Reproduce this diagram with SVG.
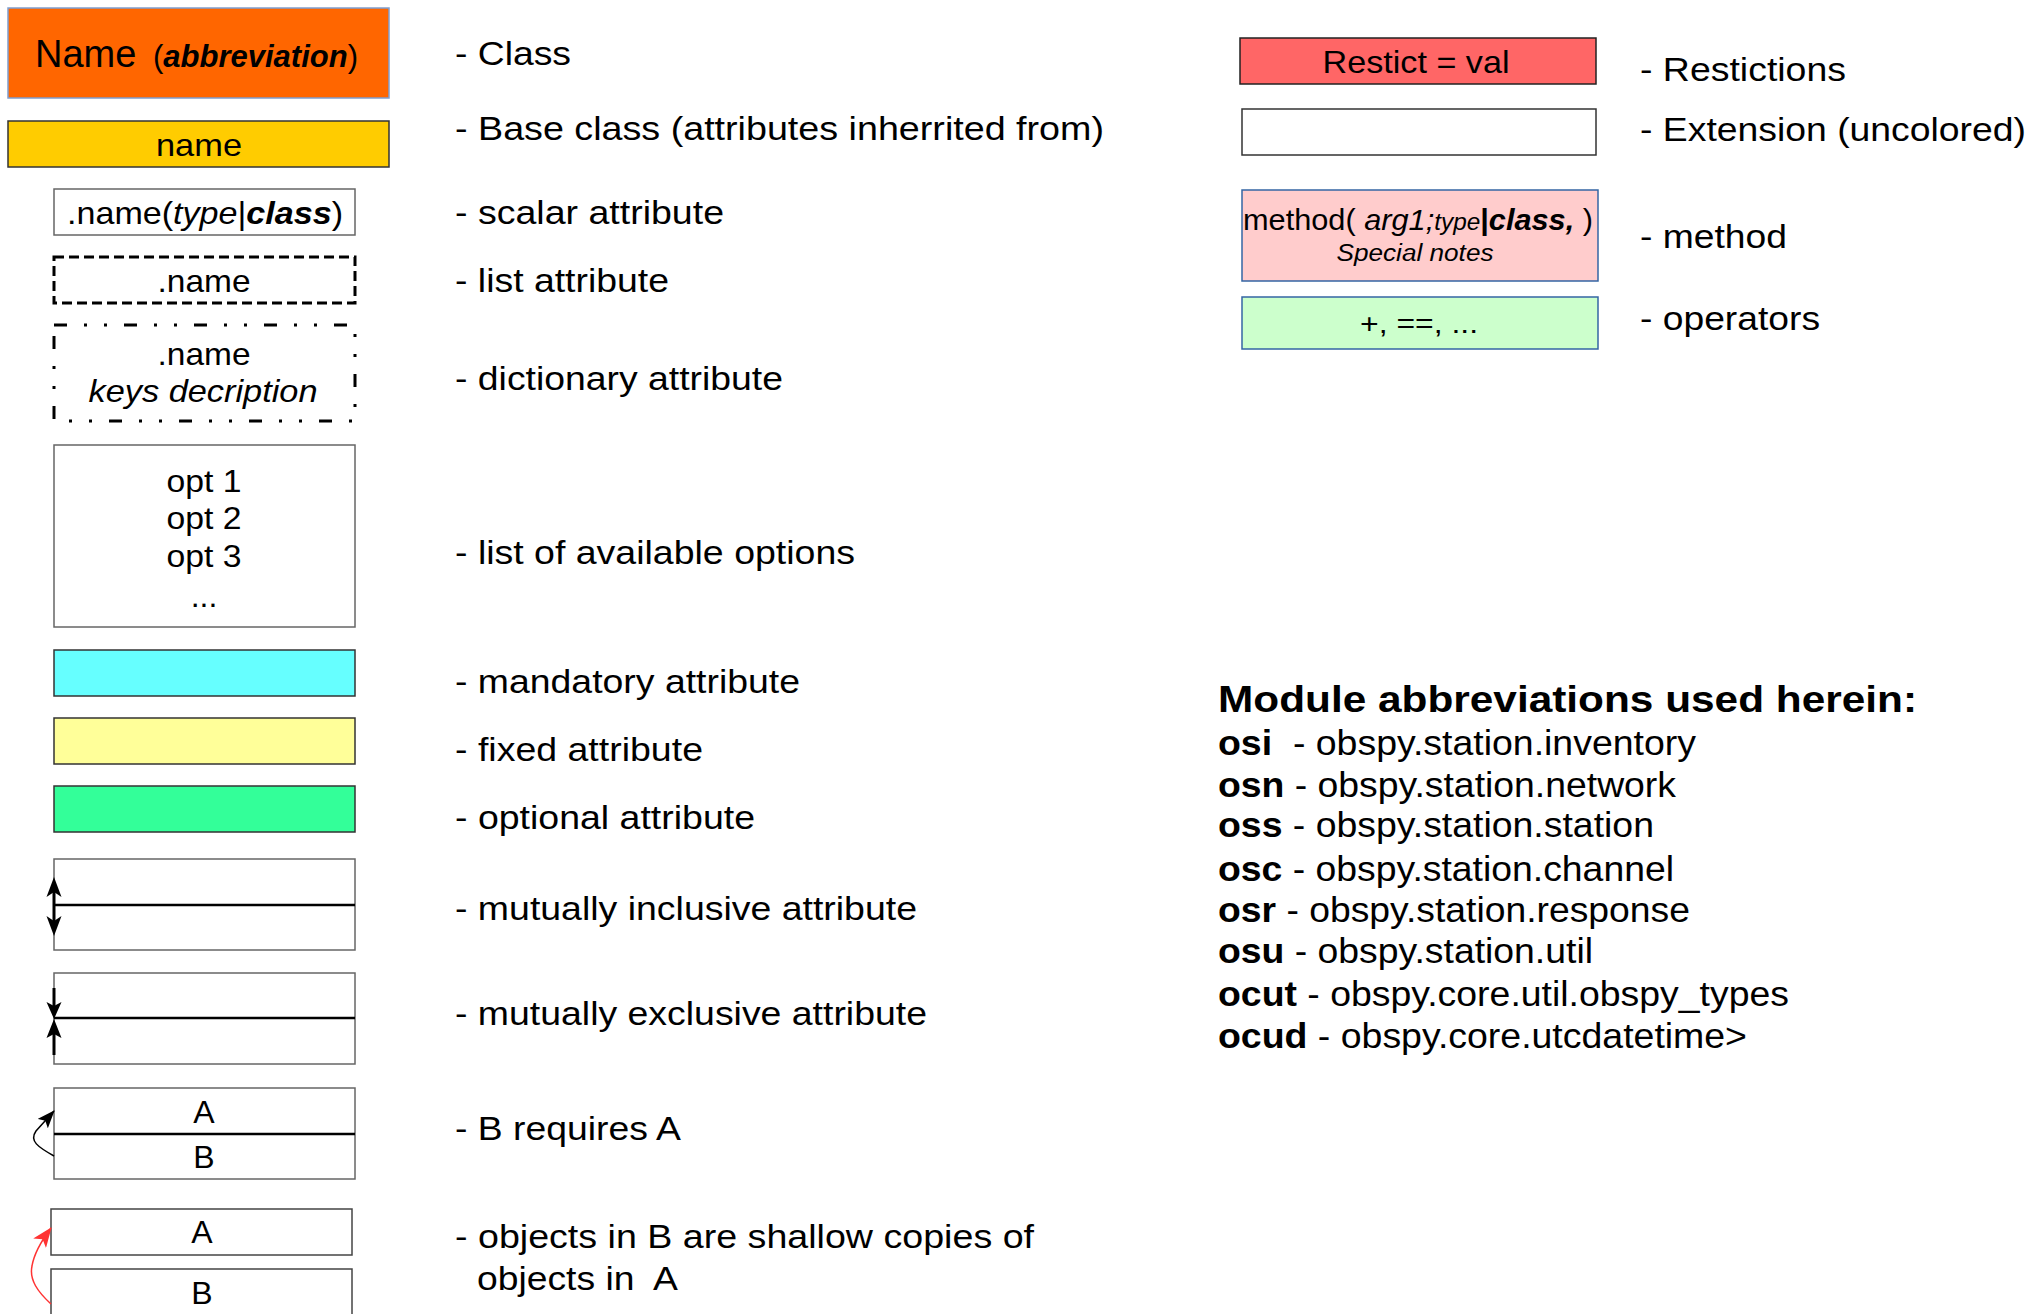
<svg xmlns="http://www.w3.org/2000/svg" width="2030" height="1314" viewBox="0 0 2030 1314">
<style>
text{font-family:"Liberation Sans",Arial,sans-serif;fill:#000}
.lbl{font-size:33px}
.box{font-size:32px;text-anchor:middle}
.mod{font-size:35px}
.b{font-weight:bold}
.i{font-style:italic}
.bi{font-weight:bold;font-style:italic}
.gray{fill:#fff;stroke:#666;stroke-width:1.5}
.dark{stroke:#333;stroke-width:1.5}
.mid{stroke:#000;stroke-width:2.5}
.blue{stroke:#3465a4;stroke-width:1.5}
</style>
<defs>
<marker id="ahk" markerWidth="20" markerHeight="14" refX="17" refY="7" orient="auto" markerUnits="userSpaceOnUse"><path d="M0,0 L18,7 L0,14 L4,7 z" fill="#000"/></marker>
<marker id="ahr" markerWidth="22" markerHeight="16" refX="19" refY="8" orient="auto" markerUnits="userSpaceOnUse"><path d="M0,0 L20,8 L0,16 L5,8 z" fill="#ff3333"/></marker>
</defs>
<rect width="2030" height="1314" fill="#fff"/>

<g id="class">
<rect x="8" y="8" width="381" height="90" fill="#ff6600" stroke="#7f9fcf" stroke-width="1.5"/>
<text x="35" y="67" style="font-size:38px">Name</text>
<text x="153" y="67" style="font-size:31px">(<tspan class="bi">abbreviation</tspan>)</text>
</g>
<g id="baseclass">
<rect x="8" y="121" width="381" height="46" fill="#ffcc00" class="dark"/>
<text x="199" y="156" class="box" textLength="86" lengthAdjust="spacingAndGlyphs">name</text>
</g>
<g id="scalar">
<rect x="54" y="189" width="301" height="46" class="gray"/>
<text x="67" y="224" style="font-size:32px" textLength="276" lengthAdjust="spacingAndGlyphs">.name(<tspan class="i">type</tspan>|<tspan class="bi">class</tspan>)</text>
</g>
<g id="list">
<rect x="54" y="257" width="301" height="46" fill="#fff" stroke="#000" stroke-width="3" stroke-dasharray="10,5"/>
<text x="204" y="292" class="box" textLength="93" lengthAdjust="spacingAndGlyphs">.name</text>
</g>
<g id="dict">
<rect x="54" y="325" width="301" height="96" fill="#fff" stroke="#000" stroke-width="3" stroke-dasharray="13,17,3,17,3,17"/>
<text x="204" y="365" class="box" textLength="93" lengthAdjust="spacingAndGlyphs">.name</text>
<text x="203" y="402" class="box i" textLength="229" lengthAdjust="spacingAndGlyphs">keys decription</text>
</g>
<g id="options">
<rect x="54" y="445" width="301" height="182" class="gray"/>
<text x="204" y="492" class="box" textLength="75" lengthAdjust="spacingAndGlyphs">opt 1</text>
<text x="204" y="529" class="box" textLength="75" lengthAdjust="spacingAndGlyphs">opt 2</text>
<text x="204" y="567" class="box" textLength="75" lengthAdjust="spacingAndGlyphs">opt 3</text>
<text x="204" y="607" class="box">...</text>
</g>
<g id="mandatory"><rect x="54" y="650" width="301" height="46" fill="#66ffff" class="dark"/></g>
<g id="fixed"><rect x="54" y="718" width="301" height="46" fill="#ffff99" class="dark"/></g>
<g id="optional"><rect x="54" y="786" width="301" height="46" fill="#33ff99" class="dark"/></g>
<g id="inclusive">
<rect x="54" y="859" width="301" height="91" class="gray"/>
<line x1="54" y1="905" x2="355" y2="905" class="mid"/>
</g>
<g id="exclusive">
<rect x="54" y="973" width="301" height="91" class="gray"/>
<line x1="54" y1="1018" x2="355" y2="1018" class="mid"/>
</g>
<g id="requires">
<rect x="54" y="1088" width="301" height="91" class="gray"/>
<line x1="54" y1="1134" x2="355" y2="1134" class="mid"/>
<text x="204" y="1123" class="box">A</text>
<text x="204" y="1168" class="box">B</text>
</g>
<g id="shallowA">
<rect x="51" y="1209" width="301" height="46" fill="#fff" stroke="#444" stroke-width="1.5"/>
<text x="202" y="1243" class="box">A</text>
</g>
<g id="shallowB">
<rect x="51" y="1269" width="301" height="60" fill="#fff" stroke="#444" stroke-width="1.5"/>
<text x="202" y="1304" class="box">B</text>
</g>

<g id="restrict">
<rect x="1240" y="38" width="356" height="46" fill="#ff6666" stroke="#222" stroke-width="1.5"/>
<text x="1416" y="73" class="box" textLength="187" lengthAdjust="spacingAndGlyphs">Restict = val</text>
</g>
<g id="extension">
<rect x="1242" y="109" width="354" height="46" fill="#fff" stroke="#333" stroke-width="1.5"/>
</g>
<g id="method">
<rect x="1242" y="190" width="356" height="91" fill="#ffcccc" class="blue"/>
<text x="1243" y="230" style="font-size:29px" textLength="350" lengthAdjust="spacingAndGlyphs">method( <tspan class="i">arg1;</tspan><tspan class="i" style="font-size:23px">type</tspan><tspan class="b">|</tspan><tspan class="bi">class,</tspan> )</text>
<text x="1415" y="261" class="box i" style="font-size:23px" textLength="157" lengthAdjust="spacingAndGlyphs">Special notes</text>
</g>
<g id="operators">
<rect x="1242" y="297" width="356" height="52" fill="#ccffcc" class="blue"/>
<text x="1419" y="333" class="box" style="font-size:28px" textLength="118" lengthAdjust="spacingAndGlyphs">+, ==, ...</text>
</g>

<g id="connectors" fill="none">
<line x1="54" y1="890" x2="54" y2="923" stroke="#000" stroke-width="3"/>
<polygon points="54,877 61.5,897 54,892 46.5,897" fill="#000"/>
<polygon points="54,936 61.5,916 54,921 46.5,916" fill="#000"/>
<line x1="54" y1="988" x2="54" y2="1008" stroke="#000" stroke-width="3"/>
<line x1="54" y1="1032" x2="54" y2="1055" stroke="#000" stroke-width="3"/>
<polygon points="54,1019 61.5,1002 54,1006 46.5,1002" fill="#000"/>
<polygon points="54,1019 61.5,1038 54,1034 46.5,1038" fill="#000"/>
<path d="M54,1156 C38,1147 29,1141 36,1131 Q45,1121 54,1111" stroke="#000" stroke-width="1.5" marker-end="url(#ahk)"/>
<path d="M51,1304 C38,1292 29,1280 32,1266 C34,1254 42,1240 51,1228" stroke="#ff3333" stroke-width="1.5" marker-end="url(#ahr)"/>
</g>

<g id="labels">
<text x="455" y="65" class="lbl" textLength="116" lengthAdjust="spacingAndGlyphs">- Class</text>
<text x="455" y="140" class="lbl" textLength="649" lengthAdjust="spacingAndGlyphs">- Base class (attributes inherrited from)</text>
<text x="455" y="224" class="lbl" textLength="269" lengthAdjust="spacingAndGlyphs">- scalar attribute</text>
<text x="455" y="292" class="lbl" textLength="214" lengthAdjust="spacingAndGlyphs">- list attribute</text>
<text x="455" y="390" class="lbl" textLength="328" lengthAdjust="spacingAndGlyphs">- dictionary attribute</text>
<text x="455" y="564" class="lbl" textLength="400" lengthAdjust="spacingAndGlyphs">- list of available options</text>
<text x="455" y="693" class="lbl" textLength="345" lengthAdjust="spacingAndGlyphs">- mandatory attribute</text>
<text x="455" y="761" class="lbl" textLength="248" lengthAdjust="spacingAndGlyphs">- fixed attribute</text>
<text x="455" y="829" class="lbl" textLength="300" lengthAdjust="spacingAndGlyphs">- optional attribute</text>
<text x="455" y="920" class="lbl" textLength="462" lengthAdjust="spacingAndGlyphs">- mutually inclusive attribute</text>
<text x="455" y="1025" class="lbl" textLength="472" lengthAdjust="spacingAndGlyphs">- mutually exclusive attribute</text>
<text x="455" y="1140" class="lbl" textLength="226" lengthAdjust="spacingAndGlyphs">- B requires A</text>
<text x="455" y="1248" class="lbl" textLength="579" lengthAdjust="spacingAndGlyphs">- objects in B are shallow copies of</text>
<text x="477" y="1290" class="lbl" textLength="201" lengthAdjust="spacingAndGlyphs" xml:space="preserve">objects in  A</text>
<text x="1640" y="81" class="lbl" textLength="206" lengthAdjust="spacingAndGlyphs">- Restictions</text>
<text x="1640" y="141" class="lbl" textLength="386" lengthAdjust="spacingAndGlyphs">- Extension (uncolored)</text>
<text x="1640" y="248" class="lbl" textLength="147" lengthAdjust="spacingAndGlyphs">- method</text>
<text x="1640" y="330" class="lbl" textLength="180" lengthAdjust="spacingAndGlyphs">- operators</text>
</g>

<g id="modules">
<text x="1218" y="712" class="b" style="font-size:37px" textLength="699" lengthAdjust="spacingAndGlyphs">Module abbreviations used herein:</text>
<text x="1218" y="755" class="mod" textLength="478" lengthAdjust="spacingAndGlyphs" xml:space="preserve"><tspan class="b">osi</tspan>  - obspy.station.inventory</text>
<text x="1218" y="797" class="mod" textLength="458" lengthAdjust="spacingAndGlyphs"><tspan class="b">osn</tspan> - obspy.station.network</text>
<text x="1218" y="837" class="mod" textLength="436" lengthAdjust="spacingAndGlyphs"><tspan class="b">oss</tspan> - obspy.station.station</text>
<text x="1218" y="881" class="mod" textLength="456" lengthAdjust="spacingAndGlyphs"><tspan class="b">osc</tspan> - obspy.station.channel</text>
<text x="1218" y="922" class="mod" textLength="472" lengthAdjust="spacingAndGlyphs"><tspan class="b">osr</tspan> - obspy.station.response</text>
<text x="1218" y="963" class="mod" textLength="375" lengthAdjust="spacingAndGlyphs"><tspan class="b">osu</tspan> - obspy.station.util</text>
<text x="1218" y="1006" class="mod" textLength="571" lengthAdjust="spacingAndGlyphs"><tspan class="b">ocut</tspan> - obspy.core.util.obspy_types</text>
<text x="1218" y="1048" class="mod" textLength="529" lengthAdjust="spacingAndGlyphs"><tspan class="b">ocud</tspan> - obspy.core.utcdatetime&gt;</text>
</g>
</svg>
